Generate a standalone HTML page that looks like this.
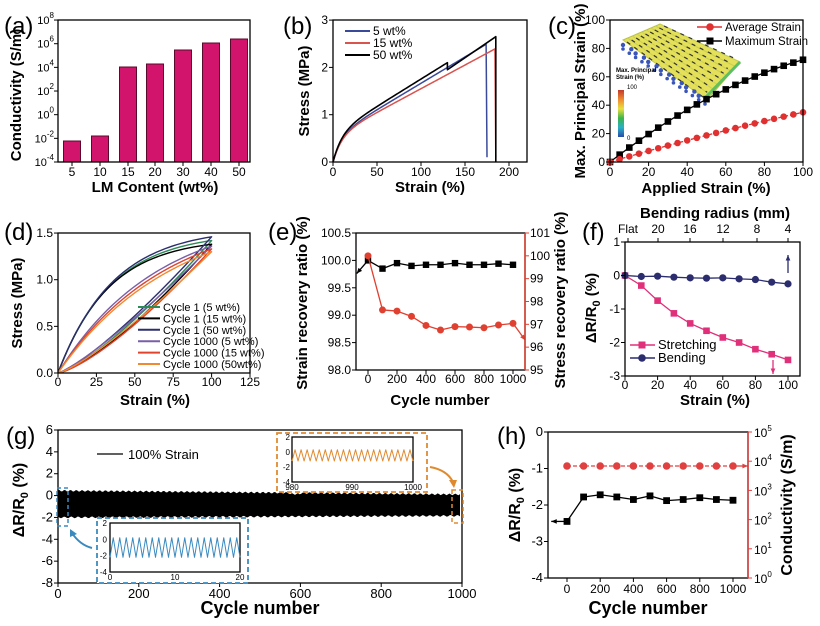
<!DOCTYPE html>
<html><head><meta charset="utf-8"><style>
html,body{margin:0;padding:0;background:#fff}
svg{display:block;font-family:"Liberation Sans",Arial,sans-serif}
</style></head><body>
<svg id="s" width="820" height="626" viewBox="0 0 820 626" xmlns="http://www.w3.org/2000/svg">
<defs>
<linearGradient id="cb" x1="0" y1="0" x2="0" y2="1">
<stop offset="0" stop-color="#c0392b"/><stop offset="0.2" stop-color="#f08a30"/><stop offset="0.4" stop-color="#e8e040"/><stop offset="0.6" stop-color="#3bb54a"/><stop offset="0.8" stop-color="#2ab0c8"/><stop offset="1" stop-color="#2a4aa8"/>
</linearGradient>
</defs>
</svg>
<script>
const S=document.getElementById('s');const NS='http://www.w3.org/2000/svg';
function el(t,a,p){const e=document.createElementNS(NS,t);for(const k in a)e.setAttribute(k,a[k]);(p||S).appendChild(e);return e;}
function L(x1,y1,x2,y2,c,w,d){const a={x1,y1,x2,y2,stroke:c||'#000','stroke-width':w||1};if(d)a['stroke-dasharray']=d;return el('line',a);}
function T(x,y,s,o){o=o||{};const a={x,y,'font-size':o.size||12,'text-anchor':o.anchor||'start',fill:o.fill||'#000'};if(o.bold)a['font-weight']='bold';if(o.rot)a.transform='rotate(-90 '+x+' '+y+')';const e=el('text',a);e.innerHTML=s;return e;}
function P(pts,c,w,d){const a={points:pts.map(p=>p.join(',')).join(' '),fill:'none',stroke:c,'stroke-width':w||1.3,'stroke-linejoin':'round'};if(d)a['stroke-dasharray']=d;return el('polyline',a);}
function box(x0,y0,x1,y1){el('rect',{x:x0,y:y0,width:x1-x0,height:y1-y0,fill:'none',stroke:'#000','stroke-width':1.3});}
function sq(x,y,c,r){r=r||3.5;el('rect',{x:x-r,y:y-r,width:2*r,height:2*r,fill:c});}
function ci(x,y,c,r){el('circle',{cx:x,cy:y,r:r||3.8,fill:c});}
function xt(xs,fx,y0,yl,lab,size){xs.forEach((v,i)=>{const x=fx(v);L(x,y0,x,y0+4);T(x,yl,lab?lab[i]:String(v),{anchor:'middle',size:size||12});});}
function yt(vs,fy,x0,xl,lab,size,side){vs.forEach((v,i)=>{const y=fy(v);L(x0,y,side?x0+4:x0-4,y);T(xl,y+4,lab?lab[i]:String(v),{anchor:side?'start':'end',size:size||12});});}
function arrow(x1,y1,x2,y2,c){L(x1,y1,x2,y2,c,1.3);const a=Math.atan2(y2-y1,x2-x1),h=6;el('polygon',{points:[[x2,y2],[x2-h*Math.cos(a-0.4),y2-h*Math.sin(a-0.4)],[x2-h*Math.cos(a+0.4),y2-h*Math.sin(a+0.4)]].map(p=>p.join(',')).join(' '),fill:c});}
const sup=(b,e)=>b+'<tspan dy="-6" font-size="8">'+e+'</tspan>';
const dR='ΔR/R<tspan dy="4" font-size="11">0</tspan><tspan dy="-4"> (%)</tspan>';

// ---- (a)
T(4,34,'(a)',{size:24});
[[72,141],[100,136],[128,67],[155,64],[183,50],[211,43],[239,39]].forEach(b=>el('rect',{x:b[0]-8.5,y:b[1],width:17,height:162-b[1],fill:'#d2146c',stroke:'#5a0a2c','stroke-width':1}));
box(58,20,250,162);
xt([5,10,15,20,30,40,50],v=>({5:72,10:100,15:128,20:155,30:183,40:211,50:239})[v],162,176);
yt([8,6,4,2,0,-2,-4],v=>162-(v+4)*11.83,58,54,[8,6,4,2,0,-2,-4].map(e=>sup('10',e)),11);
T(155,192,'LM Content (wt%)',{size:15,bold:1,anchor:'middle'});
T(21,95,'Conductivity (S/m)',{size:15,bold:1,anchor:'middle',rot:1});

// ---- (b)
T(283,34,'(b)',{size:24});
{const fx=v=>333+v*0.88,fy=v=>162-v*47.3;
const cur=(A,B,end)=>{const p=[];for(let e=0;e<=end;e+=2)p.push([fx(e),fy(A*(1-Math.exp(-e/10))+B*e)]);return p;};
let bl=cur(0.55,0.01114,175);bl.push([fx(175),fy(0.1)]);P(bl,'#3a4a9a',1.5);
let rd=cur(0.55,0.01,185);rd.push([fx(185),fy(0.1)]);P(rd,'#d9534f',1.5);
let bk=cur(0.6,0.01154,130);bk.push([fx(130),fy(1.95)],[fx(185),fy(2.65)],[fx(185),fy(0)]);P(bk,'#000',1.6);
box(333,20,527,162);
xt([0,50,100,150,200],fx,162,176);yt([0,1,2,3],fy,333,328);
[['#3a4a9a','5 wt%',31],['#d9534f','15 wt%',43],['#000','50 wt%',55]].forEach(a=>{L(345,a[2],370,a[2],a[0],2);T(373,a[2]+4,a[1],{size:12});});
T(430,192,'Strain (%)',{size:15,bold:1,anchor:'middle'});
T(309,91,'Stress (MPa)',{size:15,bold:1,anchor:'middle',rot:1});}

// ---- (c)
T(548,34,'(c)',{size:24});
{const fx=v=>610+v*1.93,fy=v=>162-v*1.42;
el('polygon',{points:'623,40 660,24 740,62 707,100',fill:'#e4e05a',stroke:'#b8c040','stroke-width':1});
for(let i=0;i<9;i++){const t=i/8;const x1=623+37*t,y1=40-16*t,x2=707+33*t,y2=100-38*t;L(x1,y1,x2,y2,'#c9cf50',1);L(x1+4,y1+2,x2-4,y2-3,'#333',1.2,'4 5');}
for(let i=0;i<14;i++){const t=i/13;ci(623+82*t+(i%2)*2,45+55*t,'#3a56b8',2.2);ci(623+82*t,49+55*t,'#3a56b8',1.8);}
L(705,98,740,62,'#5cc060',3);
el('rect',{x:618,y:90,width:6,height:47,fill:'url(#cb)'});
T(616,72,'Max. Principal',{size:6,bold:1});T(616,79,'Strain (%)',{size:6,bold:1});
T(627,89,'100',{size:6});T(627,140,'0',{size:6});
const mx=[],av=[];for(let x=0;x<=100;x+=5){mx.push([fx(x),fy(1.05*x-0.0033*x*x)]);av.push([fx(x),fy(0.4*x-0.0005*x*x)]);}
P(mx,'#000',1.3);P(av,'#e03030',1.3,'4 2');mx.forEach(p=>sq(p[0],p[1],'#000',3.3));av.forEach(p=>ci(p[0],p[1],'#e03030',3.3));
box(610,20,803,162);
xt([0,20,40,60,80,100],fx,162,176);yt([0,20,40,60,80,100],fy,610,605);
L(697,27,722,27,'#e03030',1.5);ci(710,27,'#e03030');T(725,31,'Average Strain',{size:11.5});
L(697,41,722,41,'#000',1.5);sq(710,41,'#000');T(725,45,'Maximum Strain',{size:11.5});
T(706,193,'Applied Strain (%)',{size:15,bold:1,anchor:'middle'});
T(585,91,'Max. Principal Strain (%)',{size:15,bold:1,anchor:'middle',rot:1});}

// ---- (d)
T(4,240,'(d)',{size:24});
{const fx=v=>58+v*1.536,fy=v=>373-v*93.3;
const loop=(P0,k,pw)=>{const p=[];for(let e=0;e<=100;e+=2)p.push([fx(e),fy(P0*(1-Math.exp(-e/k))/(1-Math.exp(-100/k)))]);for(let e=100;e>=0;e-=2)p.push([fx(e),fy(P0*Math.pow(e/100,pw))]);return p;};
[['#2e8b57',1.42,35,1.3],['#000',1.38,33,1.35],['#2b2f6e',1.46,36,1.25],['#7a5fa8',1.36,65,1.2],['#e0442c',1.33,70,1.35],['#f08a30',1.30,75,1.25]].forEach(s=>P(loop(s[1],s[2],s[3]),s[0],1.4));
box(58,233,250,373);
xt([0,25,50,75,100,125],fx,373,386);yt([0,0.5,1,1.5],fy,58,53,['0.0','0.5','1.0','1.5']);
[['#2e8b57','Cycle 1 (5 wt%)'],['#000','Cycle 1 (15 wt%)'],['#2b2f6e','Cycle 1 (50 wt%)'],['#7a5fa8','Cycle 1000 (5 wt%)'],['#e0442c','Cycle 1000 (15 wt%)'],['#f08a30','Cycle 1000 (50wt%)']].forEach((a,i)=>{const y=307+i*11.4;L(138,y,160,y,a[0],2);T(163,y+4,a[1],{size:11});});
T(155,405,'Strain (%)',{size:15,bold:1,anchor:'middle'});
T(22,303,'Stress (MPa)',{size:15,bold:1,anchor:'middle',rot:1});}

// ---- (e)
T(268,240,'(e)',{size:24});
{const fx=v=>368+v*0.145,fL=v=>233+(100.5-v)*54.8,fR=v=>233+(101-v)*22.83;
const bk=[[0,100],[100,99.85],[200,99.95],[300,99.9],[400,99.92],[500,99.92],[600,99.95],[700,99.92],[800,99.92],[900,99.94],[1000,99.92]].map(p=>[fx(p[0]),fL(p[1])]);
const rd=[[0,100],[100,97.63],[200,97.58],[300,97.35],[400,96.95],[500,96.75],[600,96.9],[700,96.88],[800,96.85],[900,96.97],[1000,97.04]].map(p=>[fx(p[0]),fR(p[1])]);
P(bk,'#000',1.3);bk.forEach(p=>sq(p[0],p[1],'#000',3.2));
P(rd,'#e04030',1.3);rd.forEach(p=>ci(p[0],p[1],'#e04030',3.5));
arrow(fx(0),fL(100),fx(-78),fL(99.76),'#000');arrow(fx(1000),fR(97.04),fx(1085),fR(96.3),'#e04030');
box(356,233,525,370);L(525,233,525,370,'#e04030',1.5);
xt([0,200,400,600,800,1000],fx,370,383);
yt([98,98.5,99,99.5,100,100.5],fL,356,351,['98.0','98.5','99.0','99.5','100.0','100.5']);
[95,96,97,98,99,100,101].forEach(v=>{L(525,fR(v),529,fR(v),'#e04030');T(530,fR(v)+4,String(v),{size:12});});
T(440,405,'Cycle number',{size:15,bold:1,anchor:'middle'});
T(307,303,'Strain recovery ratio (%)',{size:15,bold:1,anchor:'middle',rot:1});
T(565,300,'Stress recovery ratio (%)',{size:15,bold:1,anchor:'middle',rot:1});}

// ---- (f)
T(582,240,'(f)',{size:24});
{const fx=v=>625+v*1.63,fy=v=>242+(1-v)*33.5;
const st=[0,-0.3,-0.75,-1.13,-1.43,-1.65,-1.85,-2.0,-2.2,-2.35,-2.52].map((v,i)=>[fx(i*10),fy(v)]);
const be=[0,-0.03,-0.02,-0.05,-0.07,-0.08,-0.07,-0.1,-0.12,-0.2,-0.25].map((v,i)=>[fx(i*10),fy(v)]);
P(st,'#e0307a',1.3);st.forEach(p=>sq(p[0],p[1],'#e0307a',3.3));
P(be,'#2b2d6e',1.3);be.forEach(p=>ci(p[0],p[1],'#2b2d6e',3.6));
arrow(788,273,788,255,'#2b2d6e');arrow(773,360,773,374,'#e0307a');
box(625,242,800,376);
xt([0,20,40,60,80,100],fx,376,389);yt([1,0,-1,-2,-3],fy,625,620);
[628,658,690,723,757,788].forEach((x,i)=>{L(x,242,x,238);T(x,233,['Flat','20','16','12','8','4'][i],{size:12,anchor:'middle'});});
T(715,218,'Bending radius (mm)',{size:15,bold:1,anchor:'middle'});
L(630,345,655,345,'#e0307a',1.5);sq(642,345,'#e0307a');T(658,349,'Stretching',{size:13});
L(630,358,655,358,'#2b2d6e',1.5);ci(642,358,'#2b2d6e');T(658,362,'Bending',{size:13});
T(715,405,'Strain (%)',{size:15,bold:1,anchor:'middle'});
T(596,308,dR,{size:15,bold:1,anchor:'middle',rot:1});}

// ---- (g)
T(6,444,'(g)',{size:24});
{const fx=v=>58+v*0.404,fy=v=>430+(6-v)*10.93;
let top=[],bot=[];for(let x=58;x<=461;x+=1.5){const t=(x-58)/403;const tv=0.45-0.35*t+(Math.sin(x*7.3)*0.08)+(x>290&&x<300?-0.1:0);const bv=-2.0+0.15*t+Math.cos(x*5.1)*0.08;top.push([x,fy(tv)]);bot.unshift([x,fy(bv)]);}
el('polygon',{points:top.concat(bot).map(p=>p.join(',')).join(' '),fill:'#000'});
box(58,430,462,583);
xt([0,200,400,600,800,1000],fx,583,598,null,13);yt([6,4,2,0,-2,-4,-6,-8],fy,58,53,null,13);
L(97,454,123,454,'#000',1.3);T(128,459,'100% Strain',{size:13});
el('rect',{x:57,y:488,width:11,height:38,fill:'none',stroke:'#3a8ac0','stroke-width':1.5,'stroke-dasharray':'4 3'});
el('rect',{x:97,y:518,width:151,height:65,fill:'#fff',stroke:'#3a8ac0','stroke-width':1.8,'stroke-dasharray':'5 3'});
box(110,523,240,572);
{const iy=v=>523+(2-v)*8.17;const p=[];for(let i=0;i<=40;i++)p.push([110+i*130/40,iy(i%2?0.2:-2.2)]);P(p,'#3a8ac0',1);
[2,0,-2,-4].forEach(v=>T(107,iy(v)+3,String(v),{size:8,anchor:'end'}));[[110,'0'],[175,'10'],[240,'20']].forEach(a=>T(a[0],580,a[1],{size:8,anchor:'middle'}));}
el('path',{d:'M92 548 Q80 545 72 533',fill:'none',stroke:'#3a8ac0','stroke-width':2});
el('polygon',{points:'70,529 77,534 70,537',fill:'#3a8ac0'});
el('rect',{x:452,y:490,width:11,height:33,fill:'none',stroke:'#e08a30','stroke-width':1.5,'stroke-dasharray':'4 3'});
el('rect',{x:277,y:433,width:150,height:59,fill:'#fff',stroke:'#e08a30','stroke-width':1.8,'stroke-dasharray':'5 3'});
box(292,437,413,482);
{const iy=v=>437+(2-v)*7.5;const p=[];for(let i=0;i<=40;i++)p.push([292+i*121/40,iy(i%2?0.3:-1.2)]);P(p,'#e08a30',1);
[2,0,-2,-4].forEach(v=>T(290,iy(v)+3,String(v),{size:8,anchor:'end'}));[[292,'980'],[352,'990'],[413,'1000']].forEach(a=>T(a[0],490,a[1],{size:8,anchor:'middle'}));}
el('path',{d:'M430 467 Q447 470 453 482',fill:'none',stroke:'#e08a30','stroke-width':2});
el('polygon',{points:'449,480 457,480 454,488',fill:'#e08a30'});
T(260,614,'Cycle number',{size:18,bold:1,anchor:'middle'});
T(24,500,dR,{size:16,bold:1,anchor:'middle',rot:1});}

// ---- (h)
T(497,444,'(h)',{size:24});
{const fx=v=>567+v*0.166,fy=v=>432-v*36.5;
const bk=[-2.45,-1.78,-1.72,-1.78,-1.85,-1.75,-1.88,-1.85,-1.8,-1.85,-1.87].map((v,i)=>[fx(i*100),fy(v)]);
P(bk,'#000',1.3);bk.forEach(p=>sq(p[0],p[1],'#000',3.4));arrow(fx(0),fy(-2.45),fx(-95),fy(-2.45),'#000');
const rd=[];for(let i=0;i<=10;i++)rd.push([fx(i*100),466]);P(rd,'#e04040',1.3,'4 2');rd.forEach(p=>ci(p[0],p[1],'#e04040',3.8));arrow(fx(1000),466,fx(1090),466,'#e04040');
box(548,432,748,578);L(748,432,748,578,'#e04040',1.5);
xt([0,200,400,600,800,1000],fx,578,593,null,12);yt([0,-1,-2,-3,-4],fy,548,543,null,13);
[5,4,3,2,1,0].forEach((e,i)=>{const y=432+i*29.2;L(748,y,752,y,'#e04040');T(754,y+5,sup('10',e),{size:12});});
T(648,614,'Cycle number',{size:18,bold:1,anchor:'middle'});
T(520,505,dR,{size:16,bold:1,anchor:'middle',rot:1});
T(792,505,'Conductivity (S/m)',{size:16,bold:1,anchor:'middle',rot:1});}
</script>
</body></html>
